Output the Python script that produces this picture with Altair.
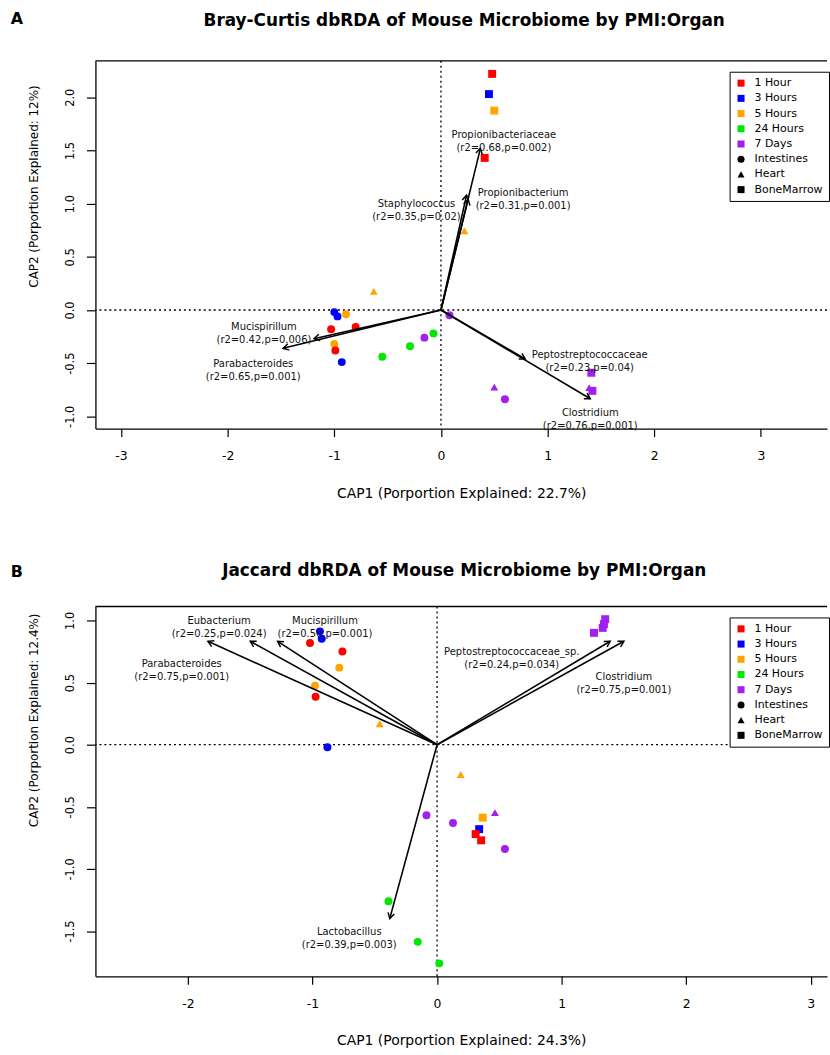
import altair as alt
import pandas as pd

FONT = "DejaVu Sans"

TIMES = ["1 Hour", "3 Hours", "5 Hours", "24 Hours", "7 Days"]
ORGANS = ["Intestines", "Heart", "BoneMarrow"]
LEGEND_ENTRIES = TIMES + ORGANS
LEGEND_COLORS = ["#FF0000", "#0000FF", "#FFA500", "#00E800", "#A020F0", "black", "black", "black"]
LEGEND_SHAPES = ["square"] * 5 + ["circle", "triangle-up", "square"]

# ---------------- Panel A : Bray-Curtis ----------------
A_PT_X = [-0.63, -1.00, -0.97, -0.89, -1.03, -0.80, -1.00, -0.99, -0.93, -0.55, -0.29, -0.155,
          -0.07, 0.08, 0.22, 0.48, 0.45, 0.50, 0.41, 0.50, 0.60, 1.41, 1.39, 1.42]
A_PT_Y = [0.175, -0.02, -0.06, -0.04, -0.18, -0.16, -0.32, -0.38, -0.49, -0.44, -0.34, -0.26,
          -0.22, -0.05, 0.745, 2.22, 2.03, 1.875, 1.43, -0.725, -0.84, -0.59, -0.73, -0.76]
A_PT_TIME = ["5 Hours", "3 Hours", "3 Hours", "5 Hours", "1 Hour", "1 Hour", "5 Hours", "1 Hour",
             "3 Hours", "24 Hours", "24 Hours", "7 Days", "24 Hours", "7 Days", "5 Hours", "1 Hour",
             "3 Hours", "5 Hours", "1 Hour", "7 Days", "7 Days", "7 Days", "7 Days", "7 Days"]
A_PT_ORGAN = ["Heart", "Intestines", "Intestines", "Intestines", "Intestines", "Intestines",
              "Intestines", "Intestines", "Intestines", "Intestines", "Intestines", "Intestines",
              "Intestines", "Intestines", "Heart", "BoneMarrow", "BoneMarrow", "BoneMarrow",
              "BoneMarrow", "Heart", "Intestines", "BoneMarrow", "Heart", "BoneMarrow"]

A_ARROW_X = [0.37, 0.255, 0.24, -1.19, -1.48, 0.79, 1.40]
A_ARROW_Y = [1.52, 1.04, 1.08, -0.27, -0.36, -0.46, -0.835]
A_LABEL_TEXT = ["Propionibacteriaceae\n(r2=0.68,p=0.002)",
                "Propionibacterium\n(r2=0.31,p=0.001)",
                "Staphylococcus\n(r2=0.35,p=0.02)",
                "Mucispirillum\n(r2=0.42,p=0.006)",
                "Parabacteroides\n(r2=0.65,p=0.001)",
                "Peptostreptococcaceae\n(r2=0.23,p=0.04)",
                "Clostridium\n(r2=0.76,p=0.001)"]
A_LABEL_X = [0.59, 0.77, -0.23, -1.66, -1.76, 1.395, 1.40]
A_LABEL_Y = [1.645, 1.10, 0.995, -0.157, -0.507, -0.42, -0.967]

A_X_DOMAIN = [-3.24, 3.62]
A_Y_DOMAIN = [-1.115, 2.343]
A_X_TICKS = [-3, -2, -1, 0, 1, 2, 3]
A_Y_TICKS = [-1.0, -0.5, 0.0, 0.5, 1.0, 1.5, 2.0]

# ---------------- Panel B : Jaccard ----------------
B_PT_X = [-0.94, -0.926, -1.02, -0.76, -0.785, -0.98, -0.975, -0.46, -0.88, 0.19, -0.085, 0.128,
          -0.39, -0.155, 0.018, 1.35, 1.34, 1.33, 1.26, 0.367, 0.465, 0.338, 0.31, 0.354, 0.545]
B_PT_Y = [0.912, 0.853, 0.818, 0.75, 0.62, 0.475, 0.386, 0.168, -0.02, -0.24, -0.568, -0.63,
          -1.26, -1.587, -1.76, 1.01, 0.97, 0.94, 0.90, -0.587, -0.547, -0.68, -0.72, -0.77, -0.84]
B_PT_TIME = ["3 Hours", "3 Hours", "1 Hour", "1 Hour", "5 Hours", "5 Hours", "1 Hour", "5 Hours",
             "3 Hours", "5 Hours", "7 Days", "7 Days", "24 Hours", "24 Hours", "24 Hours",
             "7 Days", "7 Days", "7 Days", "7 Days", "5 Hours", "7 Days", "3 Hours", "1 Hour",
             "1 Hour", "7 Days"]
B_PT_ORGAN = ["Intestines", "Intestines", "Intestines", "Intestines", "Intestines", "Intestines",
              "Intestines", "Heart", "Intestines", "Heart", "Intestines", "Intestines",
              "Intestines", "Intestines", "Intestines", "BoneMarrow", "BoneMarrow", "BoneMarrow",
              "BoneMarrow", "BoneMarrow", "Heart", "BoneMarrow", "BoneMarrow", "BoneMarrow",
              "Intestines"]

B_ARROW_X = [-1.50, -1.28, -1.84, -0.38, 1.39, 1.50]
B_ARROW_Y = [0.832, 0.832, 0.832, -1.40, 0.832, 0.832]
B_LABEL_TEXT = ["Eubacterium\n(r2=0.25,p=0.024)",
                "Mucispirillum\n(r2=0.50,p=0.001)",
                "Parabacteroides\n(r2=0.75,p=0.001)",
                "Lactobacillus\n(r2=0.39,p=0.003)",
                "Peptostreptococcaceae_sp.\n(r2=0.24,p=0.034)",
                "Clostridium\n(r2=0.75,p=0.001)"]
B_LABEL_X = [-1.75, -0.90, -2.05, -0.705, 0.60, 1.50]
B_LABEL_Y = [0.993, 0.993, 0.646, -1.507, 0.744, 0.547]

B_X_DOMAIN = [-2.743, 3.131]
B_Y_DOMAIN = [-1.864, 1.112]
B_X_TICKS = [-2, -1, 0, 1, 2, 3]
B_Y_TICKS = [-1.5, -1.0, -0.5, 0.0, 0.5, 1.0]

PLOT_W = 736
ARROW_PATH = "M -0.5 0.866 L 0 0 L 0.5 0.866"


def make_panel(px, py, ptime, porgan, ax, ay, ltext, lx, ly, xdom, ydom, xticks, yticks,
               title, title_y, letter, letter_y, xtitle, ytitle, ytitle_y, height):
    pts = pd.DataFrame({"x": px, "y": py, "time": ptime, "organ": porgan})
    arr = pd.DataFrame({"x": ax, "y": ay})
    lab = pd.DataFrame({"x": lx, "y": ly, "text": ltext})
    one = pd.DataFrame({"title": [title], "letter": [letter]})

    xscale = alt.Scale(domain=xdom, nice=False, zero=False)
    yscale = alt.Scale(domain=ydom, nice=False, zero=False)
    xaxis = alt.Axis(values=xticks, grid=False, domainColor="black", domainWidth=1.3,
                     tickColor="black", tickSize=8, tickWidth=1.2, labelFont=FONT,
                     labelFontSize=12.5, labelColor="black", labelPadding=13, labelFlush=False,
                     labelOverlap=False,
                     labelExpr="datum.value < 0 ? '-' + format(-datum.value, 'd') : format(datum.value, 'd')",
                     title=xtitle, titleFont=FONT, titleFontSize=14, titleFontWeight="normal",
                     titleColor="black", titleY=65, titleBaseline="middle")
    yaxis = alt.Axis(values=yticks, grid=False, domainColor="black", domainWidth=1.3,
                     tickColor="black", tickSize=9, tickWidth=1.2, labelFont=FONT,
                     labelFontSize=11.5, labelColor="black", labelPadding=11, labelFlush=False,
                     labelOverlap=False, labelAngle=270, labelAlign="center",
                     labelBaseline="bottom",
                     labelExpr="datum.value < 0 ? '-' + format(-datum.value, '.1f') : format(datum.value, '.1f')",
                     title=ytitle, titleFont=FONT, titleFontSize=12, titleFontWeight="normal",
                     titleColor="black", titleAngle=270, titleX=-62, titleY=ytitle_y,
                     titleAlign="center", titleBaseline="middle")

    legend = alt.Legend(orient="none", legendX=638, legendY=11, title=None, fillColor="white",
                        strokeColor="black", padding=6, labelFont=FONT, labelFontSize=11,
                        labelColor="black", symbolSize=50, rowPadding=3.3, labelOffset=8,
                        symbolStrokeWidth=0)

    base = alt.Chart(pts)
    single = alt.Chart(one)

    hline = single.mark_rule(color="black", strokeDash=[2, 3], strokeWidth=1.3).encode(
        y=alt.Y(datum=0, scale=yscale))
    vline = single.mark_rule(color="black", strokeDash=[2, 3], strokeWidth=1.3).encode(
        x=alt.X(datum=0, scale=xscale))
    topline = single.mark_rule(color="black", strokeWidth=1.3).encode(
        x=alt.value(0), x2=alt.value(PLOT_W), y=alt.value(0))

    points = base.mark_point(filled=True, size=64, opacity=1).encode(
        x=alt.X("x:Q", scale=xscale, axis=xaxis),
        y=alt.Y("y:Q", scale=yscale, axis=yaxis),
        color=alt.Color("time:N", scale=alt.Scale(domain=LEGEND_ENTRIES, range=LEGEND_COLORS),
                        legend=legend),
        shape=alt.Shape("organ:N", scale=alt.Scale(domain=LEGEND_ENTRIES, range=LEGEND_SHAPES),
                        legend=legend),
    )

    shafts = alt.Chart(arr).transform_calculate(ox="0", oy="0").mark_rule(
        color="black", strokeWidth=1.6).encode(
        x=alt.X("ox:Q", scale=xscale), y=alt.Y("oy:Q", scale=yscale),
        x2="x:Q", y2="y:Q")
    heads = alt.Chart(arr).transform_calculate(
        ang="(atan2(datum.x, datum.y) * 180 / PI + 360) % 360").mark_point(
        shape=ARROW_PATH, filled=False, color="black", strokeWidth=1.5, size=170,
        opacity=1).encode(
        x=alt.X("x:Q", scale=xscale), y=alt.Y("y:Q", scale=yscale),
        angle=alt.Angle("ang:Q", scale=None))

    labels = alt.Chart(lab).mark_text(font=FONT, fontSize=10, color="#111111", lineBreak="\n",
                                      lineHeight=13, align="center", baseline="middle").encode(
        x=alt.X("x:Q", scale=xscale), y=alt.Y("y:Q", scale=yscale), text="text:N")

    letter_mark = single.mark_text(font=FONT, fontSize=16, fontWeight="bold", color="black",
                                   align="center", baseline="middle").encode(
        x=alt.value(-79), y=alt.value(letter_y), text="letter:N")
    title_mark = single.mark_text(font=FONT, fontSize=17, fontWeight="bold", color="black",
                                  align="center", baseline="middle").encode(
        x=alt.value(371), y=alt.value(title_y), text="title:N")

    return alt.layer(hline, vline, topline, points, shafts, heads, labels,
                     letter_mark, title_mark).properties(width=PLOT_W, height=height)


panel_a = make_panel(A_PT_X, A_PT_Y, A_PT_TIME, A_PT_ORGAN, A_ARROW_X, A_ARROW_Y,
                     A_LABEL_TEXT, A_LABEL_X, A_LABEL_Y, A_X_DOMAIN, A_Y_DOMAIN,
                     A_X_TICKS, A_Y_TICKS,
                     "Bray-Curtis dbRDA of Mouse Microbiome by PMI:Organ", -40, "A", -42,
                     "CAP1 (Porportion Explained: 22.7%)",
                     "CAP2 (Porportion Explained: 12%)", 126, 370)
panel_b = make_panel(B_PT_X, B_PT_Y, B_PT_TIME, B_PT_ORGAN, B_ARROW_X, B_ARROW_Y,
                     B_LABEL_TEXT, B_LABEL_X, B_LABEL_Y, B_X_DOMAIN, B_Y_DOMAIN,
                     B_X_TICKS, B_Y_TICKS,
                     "Jaccard dbRDA of Mouse Microbiome by PMI:Organ", -36, "B", -35,
                     "CAP1 (Porportion Explained: 24.3%)",
                     "CAP2 (Porportion Explained: 12.4%)", 114, 372)

chart = alt.vconcat(panel_a, panel_b, spacing=62).resolve_scale(
    color="independent", shape="independent").configure_view(stroke=None).properties(
    padding={"left": 10, "top": 8, "right": 0, "bottom": 0}, background="white")

chart.save("out.html", embed_options={"renderer": "svg", "actions": False})
